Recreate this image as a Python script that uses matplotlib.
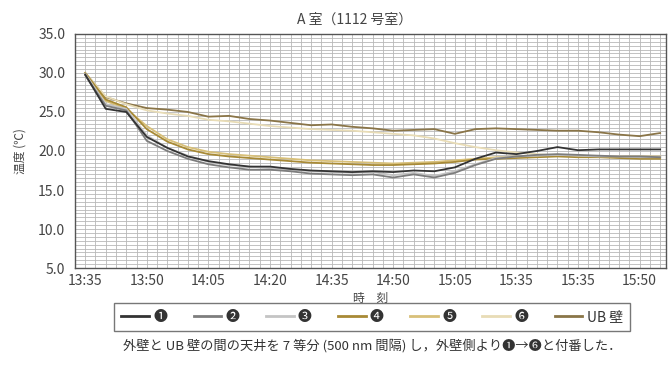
import matplotlib.pyplot as plt
import numpy as np

plt.rcParams['font.family'] = ['Noto Sans CJK JP', 'DejaVu Sans']

# minutes after 13:35, one reading every 5 minutes
minutes = list(range(0, 145, 5))

# tick labels as printed on the original (15:35 appears twice)
tickPos = [0, 15, 30, 45, 60, 75, 90, 105, 120, 135]
tickLabels = ['13:35', '13:50', '14:05', '14:20', '14:35', '14:50',
              '15:05', '15:35', '15:35', '15:50']

# temperatures (deg C)
temp1 = [29.8, 25.4, 25.0, 21.8, 20.4, 19.3, 18.7, 18.3, 18.0, 18.0, 17.7, 17.5, 17.4, 17.3, 17.4,
         17.3, 17.5, 17.4, 17.9, 19.0, 19.8, 19.6, 20.0, 20.5, 20.1, 20.2, 20.2, 20.2, 20.2]
temp2 = [29.7, 25.8, 25.2, 21.3, 20.0, 19.0, 18.3, 17.9, 17.6, 17.6, 17.4, 17.1, 17.0, 16.9, 17.0,
         16.6, 17.0, 16.6, 17.2, 18.2, 19.0, 19.3, 19.5, 19.6, 19.5, 19.4, 19.3, 19.3, 19.2]
temp3 = [29.9, 26.0, 25.4, 22.0, 20.4, 19.4, 18.6, 18.2, 18.0, 17.8, 17.6, 17.4, 17.3, 17.2, 17.3,
         16.9, 17.2, 16.8, 17.4, 18.3, 19.1, 19.3, 19.4, 19.5, 19.4, 19.3, 19.3, 19.2, 19.2]
temp4 = [30.0, 26.6, 25.6, 22.8, 21.2, 20.2, 19.6, 19.3, 19.1, 18.9, 18.7, 18.5, 18.4, 18.3, 18.2,
         18.2, 18.3, 18.4, 18.6, 18.9, 19.0, 19.1, 19.2, 19.3, 19.2, 19.2, 19.1, 19.0, 19.0]
temp5 = [29.9, 26.4, 25.4, 23.2, 21.5, 20.5, 19.9, 19.6, 19.4, 19.2, 19.0, 18.8, 18.7, 18.6, 18.5,
         18.4, 18.5, 18.6, 18.8, 19.0, 19.2, 19.3, 19.3, 19.4, 19.4, 19.3, 19.3, 19.3, 19.3]
temp6 = [30.0, 27.0, 26.0, 25.2, 24.8, 24.5, 24.0, 23.8, 23.5, 23.2, 23.0, 22.8, 22.7, 22.6, 22.4,
         22.2, 22.0, 21.6, 21.0, 20.5, 20.1, 19.8, 19.6, 19.4, 19.4, 19.3, 19.3, 19.2, 19.2]
tempUB = [30.0, 26.9, 26.1, 25.5, 25.3, 25.0, 24.4, 24.5, 24.1, 23.9, 23.6, 23.3, 23.4, 23.1, 22.9,
          22.6, 22.7, 22.8, 22.2, 22.8, 22.9, 22.8, 22.7, 22.6, 22.6, 22.4, 22.1, 21.9, 22.3]

seriesNames = ['❶', '❷', '❸', '❹', '❺', '❻', 'UB 壁']
seriesColors = ['#333333', '#7d7d7d', '#c4c4c4', '#a88a35', '#d8c079', '#e8dcb6', '#8a7548']
seriesData = [temp1, temp2, temp3, temp4, temp5, temp6, tempUB]

fig = plt.figure(figsize=(6.69, 3.77), dpi=100)
ax = fig.add_axes([0.112, 0.289, 0.884, 0.621])

# fine grid: every 2.5 min and every 0.5 deg
for xg in np.arange(-2.5, 142, 2.5):
    ax.axvline(xg, color='#b8b8b8', lw=0.6, zorder=0)
for yg in np.arange(5, 35.01, 0.5):
    ax.axhline(yg, color='#b8b8b8', lw=0.6, zorder=0)

# draw UB first so the lighter lines stay visible on top
order = [6, 5, 4, 3, 2, 1, 0]
for i in order:
    ax.plot(minutes, seriesData[i], color=seriesColors[i], lw=1.3, label=seriesNames[i], zorder=2)

ax.set_xlim(-2.5, 141.5)
ax.set_ylim(5, 35)
ax.set_xticks(tickPos)
ax.set_xticklabels(tickLabels)
ax.set_yticks(np.arange(5, 35.1, 5))
ax.set_yticklabels([f'{v:.1f}' for v in np.arange(5, 35.1, 5)])
ax.tick_params(length=0, labelsize=10, colors='#444444')
ax.tick_params(axis='y', pad=7)
ax.tick_params(axis='x', pad=4)
for s in ax.spines.values():
    s.set_color('#555555')
    s.set_linewidth(1.0)

ax.set_ylabel('温度 (℃)', fontsize=8.5, color='#444444', labelpad=8)
ax.set_xlabel('時　刻', fontsize=8.5, color='#444444', labelpad=3)
fig.text(355 / 669, 1 - 20 / 377, 'A 室（1112 号室）', ha='center', va='center', fontsize=10, color='#444444')

handles, labels = ax.get_legend_handles_labels()
byName = dict(zip(labels, handles))
leg = fig.legend([byName[n] for n in seriesNames], seriesNames, loc='center', ncol=7,
                 bbox_to_anchor=(372 / 669, 1 - 317 / 377), frameon=True, fancybox=False,
                 edgecolor='#555555', fontsize=10, handlelength=2.0, handletextpad=0.3,
                 columnspacing=1.9, borderpad=0.5)
leg.get_frame().set_linewidth(1.0)
for t in leg.get_texts():
    t.set_color('#333333')
for h in leg.get_lines():
    h.set_linewidth(2.0)

fig.text(372 / 669, 1 - 346 / 377, '外壁と UB 壁の間の天井を 7 等分 (500 nm 間隔) し，外壁側より❶→❻と付番した．',
         ha='center', va='center', fontsize=9.5, color='#333333')

fig.savefig('out.png', dpi=100)
